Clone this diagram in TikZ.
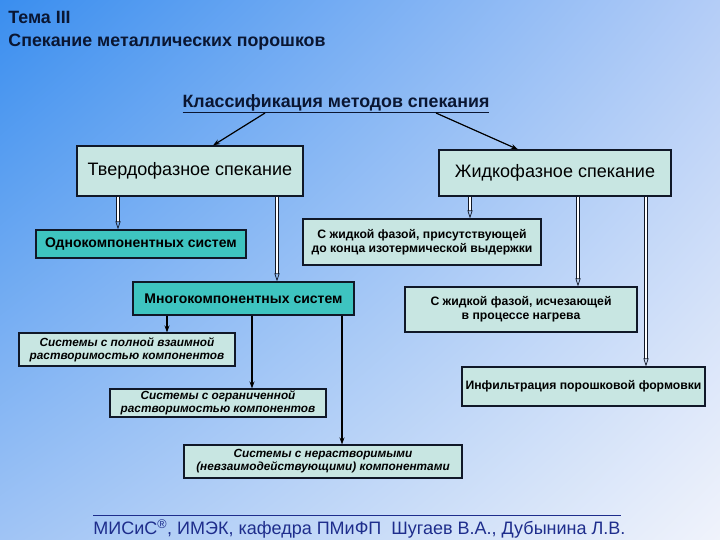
\documentclass[tikz,border=0pt]{standalone}
\usepackage{fontspec}
\setmainfont{Liberation Sans}
\usepackage{xcolor}
\usetikzlibrary{arrows.meta, shadings}

\definecolor{palebox}{RGB}{200,230,226}
\definecolor{tealbox}{RGB}{62,196,192}
\definecolor{edgecol}{RGB}{16,24,40}
\definecolor{titlecol}{RGB}{10,22,50}
\definecolor{footcol}{RGB}{30,45,140}
\definecolor{bgul}{RGB}{58,142,239}
\definecolor{bgur}{RGB}{180,205,247}
\definecolor{bgll}{RGB}{160,196,245}
\definecolor{bglr}{RGB}{240,243,251}

\begin{document}
\begin{tikzpicture}[x=1pt, y=-1pt, thick,
bigbox/.style={rectangle, draw=edgecol, fill=palebox, line width=1.1pt, inner sep=0pt, align=center, font=\fontsize{18}{20}\selectfont},
subbox/.style={rectangle, draw=edgecol, fill=palebox, line width=1.1pt, inner sep=0pt, align=center, font=\bfseries\fontsize{12.2}{14}\selectfont},
tealsub/.style={subbox, fill=tealbox, font=\bfseries\fontsize{14}{16}\selectfont},
sysbox/.style={subbox, font=\bfseries\itshape\fontsize{11.8}{13}\selectfont},
headtext/.style={inner sep=0pt, text=titlecol, font=\bfseries\fontsize{17.8}{20}\selectfont},
dbl/.style={double=white, double distance=1.8pt, line width=0.7pt, draw=edgecol, -{Triangle[open, length=8pt, width=5pt]}},
arrow/.style={-{Stealth[length=7pt, width=5pt]}, line width=1.2pt, draw=black}]
% background
\shade[upper left=bgul, upper right=bgur, lower left=bgll, lower right=bglr] (0,0) rectangle (720,540);
\useasboundingbox (0,0) rectangle (720,540);

% titles
\node[headtext, anchor=west] (tema) at (8,17) {Тема III};
\node[headtext, anchor=west] (spek) at (8,42) {Спекание металлических порошков};
\node[headtext] (klass) at (336,104) {\underline{Классификация методов спекания}};

% main boxes
\node[bigbox, minimum width=226pt, minimum height=50pt] (tverd) at (190,171) {Твердофазное спекание};
\node[bigbox, minimum width=232pt, minimum height=46pt] (zhidk) at (555,173) {Жидкофазное спекание};

% solid phase branch
\node[tealsub, minimum width=210pt, minimum height=28pt] (odno) at (141,244) {Однокомпонентных систем};
\node[tealsub, minimum width=221pt, minimum height=33pt] (mnogo) at (243.5,298.5) {Многокомпонентных систем};
\node[sysbox, minimum width=216pt, minimum height=33pt] (polnoi) at (127,349.5) {Системы с полной взаимной\\растворимостью компонентов};
\node[sysbox, minimum width=216pt, minimum height=28pt] (ogran) at (218,403) {Системы с ограниченной\\растворимостью компонентов};
\node[sysbox, minimum width=278pt, minimum height=33pt] (neras) at (323,461.5) {Системы с нерастворимыми\\(невзаимодействующими) компонентами};

% liquid phase branch
\node[subbox, minimum width=238pt, minimum height=46pt] (prisut) at (422,242) {С жидкой фазой, присутствующей\\до конца изотермической выдержки};
\node[subbox, minimum width=232pt, minimum height=45pt] (ischez) at (521,309.5) {С жидкой фазой, исчезающей\\в процессе нагрева};
\node[subbox, minimum width=243pt, minimum height=39pt] (infil) at (583.5,386.5) {Инфильтрация порошковой формовки};

% connectors
\coordinate (kl) at (265,113);
\coordinate (kr) at (436,113);
\draw[arrow] (kl) -- ([xshift=23pt]tverd.north);
\draw[arrow] (kr) -- ([xshift=-37pt]zhidk.north);

\draw[dbl] ([xshift=-72pt]tverd.south) -- ([xshift=-72pt]tverd.south |- odno.north);
\draw[dbl] ([xshift=87pt]tverd.south) -- ([xshift=87pt]tverd.south |- mnogo.north);
\draw[dbl] ([xshift=-85pt]zhidk.south) -- ([xshift=-85pt]zhidk.south |- prisut.north);
\draw[dbl] ([xshift=23pt]zhidk.south) -- ([xshift=23pt]zhidk.south |- ischez.north);
\draw[dbl] ([xshift=91pt]zhidk.south) -- ([xshift=91pt]zhidk.south |- infil.north);

\draw[arrow] ([xshift=-76.5pt]mnogo.south) -- ([xshift=-76.5pt]mnogo.south |- polnoi.north);
\draw[arrow] ([xshift=8.5pt]mnogo.south) -- ([xshift=8.5pt]mnogo.south |- ogran.north);
\draw[arrow] ([xshift=98.5pt]mnogo.south) -- ([xshift=98.5pt]mnogo.south |- neras.north);

% footer
\coordinate (fl) at (93,515);
\coordinate (fr) at (621,515);
\draw[footcol, line width=0.8pt] (fl) -- (fr);
\node[anchor=north west, inner sep=0pt, text=footcol, font=\fontsize{18}{20}\selectfont] (foot) at (93,519) {МИСиС\textsuperscript{®}, ИМЭК, кафедра ПМиФП\ \ Шугаев В.А., Дубынина Л.В.};
\end{tikzpicture}
\end{document}
